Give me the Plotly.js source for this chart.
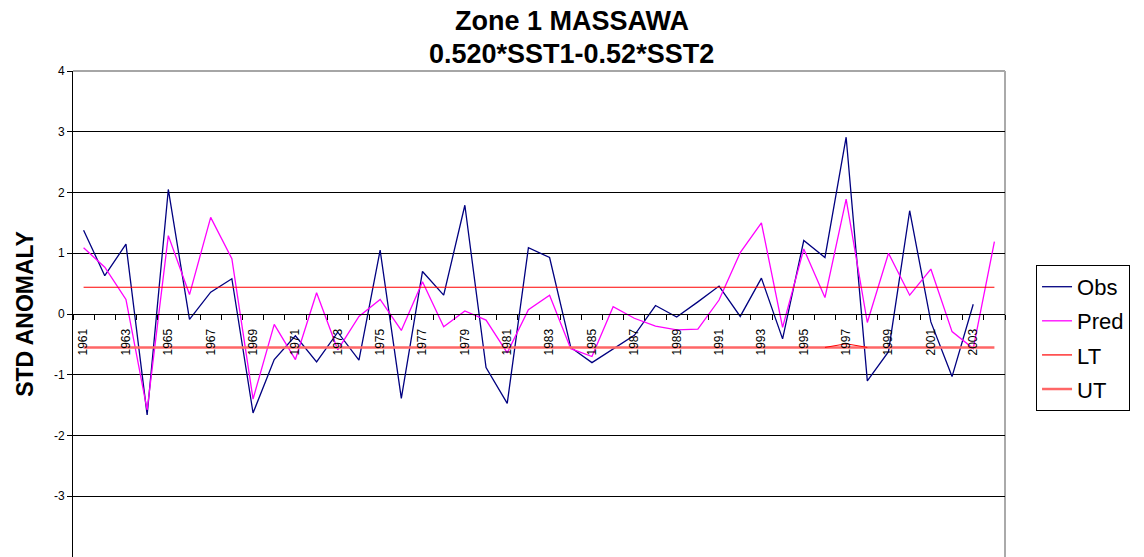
<!DOCTYPE html>
<html>
<head>
<meta charset="utf-8">
<script src="https://cdn.plot.ly/plotly-3.0.1.min.js"></script>
<style>html,body{margin:0;padding:0;background:#fff;}#chart{width:1144px;height:557px;}</style>
</head>
<body>
<div id="chart"></div>
<script>
const years = [1961,1962,1963,1964,1965,1966,1967,1968,1969,1970,1971,1972,1973,1974,1975,1976,1977,1978,1979,1980,1981,1982,1983,1984,1985,1986,1987,1988,1989,1990,1991,1992,1993,1994,1995,1996,1997,1998,1999,2000,2001,2002,2003,2004];
const obs = [1.38,0.63,1.15,-1.66,2.05,-0.09,0.36,0.58,-1.63,-0.75,-0.36,-0.79,-0.30,-0.76,1.05,-1.39,0.70,0.31,1.79,-0.88,-1.47,1.09,0.93,-0.55,-0.80,-0.57,-0.35,0.14,-0.05,0.20,0.46,-0.04,0.59,-0.41,1.21,0.93,2.91,-1.10,-0.62,1.70,-0.13,-1.03,0.16,null];
const pred = [1.09,0.77,0.24,-1.58,1.29,0.32,1.59,0.91,-1.40,-0.17,-0.75,0.35,-0.59,-0.04,0.24,-0.27,0.53,-0.21,0.05,-0.10,-0.64,0.07,0.31,-0.57,-0.70,0.12,-0.07,-0.20,-0.26,-0.25,0.23,1.01,1.50,-0.22,1.07,0.27,1.89,-0.14,1.00,0.31,0.74,-0.29,-0.57,1.19];
const lt = [0.44,0.44,0.44,0.44,0.44,0.44,0.44,0.44,0.44,0.44,0.44,0.44,0.44,0.44,0.44,0.44,0.44,0.44,0.44,0.44,0.44,0.44,0.44,0.44,0.44,0.44,0.44,0.44,0.44,0.44,0.44,0.44,0.44,0.44,0.44,0.44,0.44,0.44,0.44,0.44,0.44,0.44,0.44,0.44];
const ut = [-0.55,-0.55,-0.55,-0.55,-0.55,-0.55,-0.55,-0.55,-0.55,-0.55,-0.55,-0.55,-0.55,-0.55,-0.55,-0.55,-0.55,-0.55,-0.55,-0.55,-0.55,-0.55,-0.55,-0.55,-0.55,-0.55,-0.55,-0.55,-0.55,-0.55,-0.55,-0.55,-0.55,-0.55,-0.55,-0.55,-0.55,-0.55,-0.55,-0.55,-0.55,-0.55,-0.55,-0.55];
const bumpYears = [1996,1997,1998];
const bumpVals = [-0.55,-0.49,-0.55];
const yTicks = [-4,-3,-2,-1,0,1,2,3,4];
const yTickText = ['-4','-3','-2','-1','0','1','2','3','4'];
const xLabelYears = [1961,1963,1965,1967,1969,1971,1973,1975,1977,1979,1981,1983,1985,1987,1989,1991,1993,1995,1997,1999,2001,2003];
const titleLine1 = 'Zone 1 MASSAWA';
const titleLine2 = '0.520*SST1-0.52*SST2';

const traces = [
  {x: years, y: obs, name: 'Obs', mode: 'lines', line: {color: '#000080', width: 1.3}, legendgroup: 'a'},
  {x: years, y: pred, name: 'Pred', mode: 'lines', line: {color: '#FF00FF', width: 1.3}, legendgroup: 'b'},
  {x: years, y: lt, name: 'LT', mode: 'lines', line: {color: '#FF0000', width: 1.2}, legendgroup: 'c'},
  {x: years, y: ut, name: 'UT', mode: 'lines', line: {color: '#FF6666', width: 2.5}, legendgroup: 'd'},
  {x: bumpYears, y: bumpVals, name: 'LT', mode: 'lines', line: {color: '#FF0000', width: 1}, showlegend: false}
];

const layout = {
  width: 1144, height: 557,
  margin: {l: 73, r: 139, t: 71, b: 0},
  paper_bgcolor: '#fff', plot_bgcolor: '#fff',
  font: {family: 'Arial, "Liberation Sans", sans-serif', color: '#000'},
  showlegend: true,
  title: {
    text: '<b>' + titleLine1 + '</b>',
    font: {size: 27, color: '#000'},
    x: 0.5, xref: 'container', xanchor: 'center',
    y: 0.980, yref: 'container', yanchor: 'top'
  },
  annotations: [
    {text: '<b>' + titleLine2 + '</b>', xref: 'paper', yref: 'paper', x: 0.5345, y: 1.035,
     xanchor: 'center', yanchor: 'middle', showarrow: false, font: {size: 27, color: '#000'}}
  ],
  xaxis: {
    type: 'linear', range: [1960.5, 2004.5],
    anchor: 'free', position: 0.5,
    showgrid: false, zeroline: false,
    showline: true, linecolor: '#000', linewidth: 1,
    tickmode: 'array', tickvals: xLabelYears, ticktext: xLabelYears.map(String),
    ticks: '', tickangle: -90, ticklabelstandoff: 9,
    tickfont: {size: 12, color: '#000'},
    minor: {ticks: 'outside', ticklen: 5, tickcolor: '#000', tick0: 1960.5, dtick: 1, showgrid: false}
  },
  yaxis: {
    range: [-4, 4], tickmode: 'array', tickvals: yTicks, ticktext: yTickText,
    showgrid: true, gridcolor: '#000', gridwidth: 1,
    zeroline: false,
    showline: true, linecolor: '#000', linewidth: 1,
    ticks: 'outside', ticklen: 5, tickcolor: '#000',
    tickfont: {size: 12, color: '#000'},
    title: {text: '<b>STD ANOMALY</b>', font: {size: 23, color: '#000'}, standoff: 13}
  },
  legend: {
    x: 1.0333, xanchor: 'left', y: 0.601, yanchor: 'top',
    bordercolor: '#000', borderwidth: 1, bgcolor: '#fff',
    font: {size: 22, color: '#000'},
    traceorder: 'grouped', tracegroupgap: 2.5
  },
  shapes: [
    {type: 'line', xref: 'paper', yref: 'paper', x0: 0, x1: 1, y0: 1, y1: 1, line: {color: '#888', width: 1.5}, layer: 'below'},
    {type: 'line', xref: 'paper', yref: 'paper', x0: 1, x1: 1, y0: 0, y1: 1, line: {color: '#aaa', width: 2}, layer: 'below'}
  ]
};

Plotly.newPlot('chart', traces, layout, {displayModeBar: false, staticPlot: true});
</script>
</body>
</html>
